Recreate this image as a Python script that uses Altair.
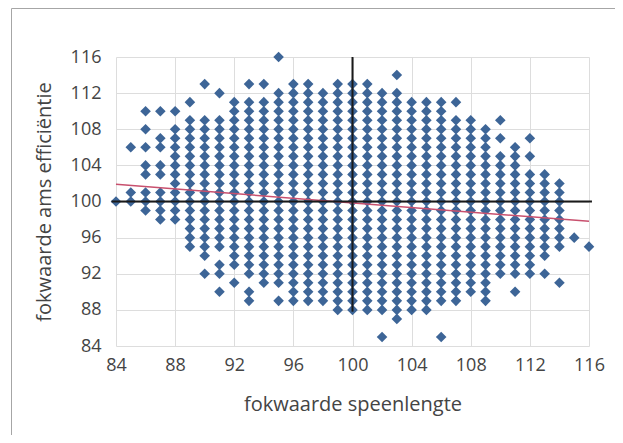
import altair as alt
import pandas as pd

# x value of each column of points
columns = list(range(84, 117))
# for each column: runs of consecutive y values [low, high]
runs = {
    84: [[100, 100]],
    85: [[100, 101], [106, 106]],
    86: [[99, 101], [103, 104], [106, 106], [108, 108], [110, 110]],
    87: [[98, 101], [103, 104], [106, 107], [110, 110]],
    88: [[98, 108], [110, 110]],
    89: [[95, 109], [111, 111]],
    90: [[92, 92], [94, 109], [113, 113]],
    91: [[90, 90], [92, 93], [95, 109], [112, 112]],
    92: [[91, 91], [93, 111]],
    93: [[89, 90], [92, 111], [113, 113]],
    94: [[91, 111], [113, 113]],
    95: [[89, 89], [91, 112], [116, 116]],
    96: [[89, 113]],
    97: [[89, 113]],
    98: [[89, 112]],
    99: [[88, 113]],
    100: [[88, 113]],
    101: [[88, 113]],
    102: [[85, 85], [88, 112]],
    103: [[87, 112], [114, 114]],
    104: [[88, 111]],
    105: [[88, 111]],
    106: [[85, 85], [89, 111]],
    107: [[89, 109], [111, 111]],
    108: [[90, 109]],
    109: [[89, 108]],
    110: [[92, 105], [107, 107], [109, 109]],
    111: [[90, 90], [92, 106]],
    112: [[92, 103], [105, 105], [107, 107]],
    113: [[92, 92], [94, 103]],
    114: [[91, 91], [95, 102]],
    115: [[96, 96]],
    116: [[95, 95]],
}

trend_x = [84, 116]
trend_y = [101.9, 97.8]
hline_y = 100
hline_x = [83.7, 116.2]
vline_x = 100
vline_y = [87.8, 116.0]
tick_values = [84, 88, 92, 96, 100, 104, 108, 112, 116]

rows = []
for c in columns:
    for lo, hi in runs[c]:
        for v in range(lo, hi + 1):
            rows.append({"x": c, "y": v})
pts = pd.DataFrame(rows)

xs = alt.Scale(domain=[84, 116], nice=False, zero=False)
ys = alt.Scale(domain=[84, 116], nice=False, zero=False)

xaxis = alt.Axis(values=tick_values, tickCount=12, title="fokwaarde speenlengte", grid=True,
                 domain=False, ticks=False, labelPadding=10, titlePadding=20,
                 labelOverlap=False, labelFlush=False)
yaxis = alt.Axis(values=tick_values, tickCount=12, title="fokwaarde ams efficiëntie", grid=True,
                 domain=False, ticks=False, labelPadding=15, titlePadding=16,
                 labelOverlap=False, labelFlush=False)

frame = alt.Chart(pd.DataFrame({"a": [0]})).mark_rect(
    fill=None, stroke="#a6a6a6", strokeWidth=1
).encode(x=alt.value(-104.5), x2=alt.value(700), y=alt.value(-48.5), y2=alt.value(600))

points = alt.Chart(pts).mark_point(
    shape="diamond", filled=True, size=112, color="#3d6597", opacity=1
).encode(
    x=alt.X("x:Q", scale=xs, axis=xaxis),
    y=alt.Y("y:Q", scale=ys, axis=yaxis),
)

trend = alt.Chart(pd.DataFrame({"x": trend_x, "y": trend_y})).mark_line(
    color="#c8506e", strokeWidth=1.5, clip=False
).encode(x=alt.X("x:Q", scale=xs), y=alt.Y("y:Q", scale=ys))

hrule = alt.Chart(pd.DataFrame({"a": [0]})).mark_rule(
    color="#1a1a1a", strokeWidth=2, clip=False
).encode(x=alt.datum(hline_x[0], scale=xs), x2=alt.datum(hline_x[1]),
         y=alt.datum(hline_y, scale=ys))

vrule = alt.Chart(pd.DataFrame({"a": [0]})).mark_rule(
    color="#1a1a1a", strokeWidth=2, clip=False
).encode(x=alt.datum(vline_x, scale=xs),
         y=alt.datum(vline_y[0], scale=ys), y2=alt.datum(vline_y[1]))

chart = alt.layer(frame, points, trend, hrule, vrule).properties(
    width=473, height=289,
    autosize=alt.AutoSizeParams(type="none"),
    padding={"left": 108, "top": 49, "right": 26, "bottom": 89},
).configure_view(stroke=None).configure_axis(
    labelFont="Open Sans", titleFont="Open Sans", labelFontSize=18, titleFontSize=20,
    labelColor="#444444", titleColor="#444444", titleFontWeight="normal",
    gridColor="#dddddd", gridWidth=1,
)

chart.save("out.html", embed_options={"renderer": "svg", "actions": False})
